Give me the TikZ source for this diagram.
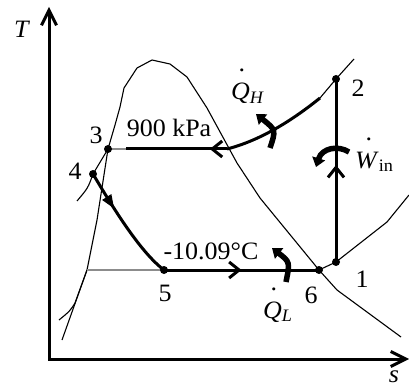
\documentclass[tikz,border=0pt]{standalone}
\usepackage{fontspec}
\setmainfont{Liberation Serif}[FakeStretch=1.04]
\usetikzlibrary{arrows.meta,decorations.markings}
\newcommand{\dotlbl}[3]{\leavevmode\rlap{\hspace{#3}\raisebox{1.12em}{.}}\textit{#1}\textsubscript{#2}}
\tikzset{
  thinline/.style={line width=1.1pt},
  greyline/.style={line width=1.8pt, color=black!45},
  cycleline/.style={line width=3pt},
  axisline/.style={line width=3pt, line join=miter},
  heatarc/.style={line width=5.5pt, -{Triangle[length=9pt,width=13pt]}},
  ptdot/.style={circle, fill=black, inner sep=0pt, minimum size=8pt},
  lbl/.style={font=\fontsize{25pt}{27pt}\selectfont, inner sep=0pt},
  midbarb/.style={postaction={decorate}, decoration={markings, mark=at position #1 with {\arrow{Straight Barb[length=10pt,width=16pt]}}}},
  midtri/.style={postaction={decorate}, decoration={markings, mark=at position #1 with {\arrow{Triangle[length=14pt,width=10pt]}}}}
}
\begin{document}
\begin{tikzpicture}[x=1pt,y=-1pt]
\useasboundingbox (0,0) rectangle (409,390);
% state points
\coordinate (p1) at (336,262);
\coordinate (p2) at (336,79);
\coordinate (p3) at (108,149);
\coordinate (p4) at (93,174);
\coordinate (p5) at (164,270);
\coordinate (p6) at (319,270);
\coordinate (sl) at (87,270);
\coordinate (hA) at (320,98);
\coordinate (hB) at (227,149);
\coordinate (hC) at (126,149);
\coordinate (origin) at (49,359);
\coordinate (taxis) at (49,7);
\coordinate (saxis) at (409,359);
% axes
\draw[axisline, {Straight Barb[length=15pt,width=15pt]}-{Straight Barb[length=15pt,width=15pt]}] (taxis) -- (origin) -- (saxis);
% saturation dome
\draw[thinline, line join=round] (62,340) -- (sl) -- (91,250) -- (97,220) -- (p3) -- (115,125) -- (120,107) -- (124,88) -- (137,68) -- (152,60) -- (170,64) -- (187,77) -- (207,108) -- (237,163) -- (260,198) -- (p6) -- (337,290) -- (401,337);
% compressed liquid isobars
\draw[thinline] (p3) -- (p4) .. controls (88,188) .. (77,201);
\draw[thinline] (sl) -- (75,303) .. controls (70,311) .. (59,320);
% superheated isobars
\draw[thinline] (p6) -- (p1) -- (387,222) -- (409,195);
\draw[thinline] (p2) -- (354,59);
\draw[thinline] (p2) -- (hA);
% grey parts under the dome
\draw[greyline] (sl) -- (p5);
\draw[greyline] (p3) -- (hC);
% cycle
\draw[cycleline] (hA) .. controls (289,123) and (258,141) .. (hB);
\draw[cycleline, midbarb=0.17] (hB) -- (hC);
\draw[cycleline, midtri=0.34] (p4) .. controls (112,206) and (140,252) .. (p5);
\draw[cycleline, midbarb=0.5] (p5) -- (p6);
\draw[cycleline, midbarb=0.53] (p1) -- (p2);
% heat and work arcs
\draw[heatarc] (270,148) .. controls (276,130) .. (256,114);
\draw[heatarc] (349,152) .. controls (338,145) and (322,148) .. (316,167);
\draw[heatarc] (286,282) .. controls (290,262) .. (272,248);
% dots
\foreach \p in {p1,p2,p3,p4,p5,p6} \node[ptdot] (d\p) at (\p) {};
% labels
\node[lbl] (lT) at (22,29) {\textit{T}};
\node[lbl] (ls) at (394,377) {\textit{s}};
\node[lbl] (l1) at (362,279) {1};
\node[lbl] (l2) at (358,88) {2};
\node[lbl] (l3) at (96,135) {3};
\node[lbl] (l4) at (75,171) {4};
\node[lbl] (l5) at (165,293) {5};
\node[lbl] (l6) at (311,295) {6};
\node[lbl, anchor=base] (lp) at (169,137) {900 kPa};
\node[lbl, anchor=base] (lt) at (211,259) {-10.09°C};
\node[lbl, anchor=base west] (lQH) at (231,100) {\dotlbl{Q}{\textit{H}}{0.3em}};
\node[lbl, anchor=base west] (lW) at (355,168) {\dotlbl{W}{in}{0.42em}};
\node[lbl, anchor=base west] (lQL) at (263,318) {\dotlbl{Q}{\textit{L}}{0.3em}};
\end{tikzpicture}
\end{document}
